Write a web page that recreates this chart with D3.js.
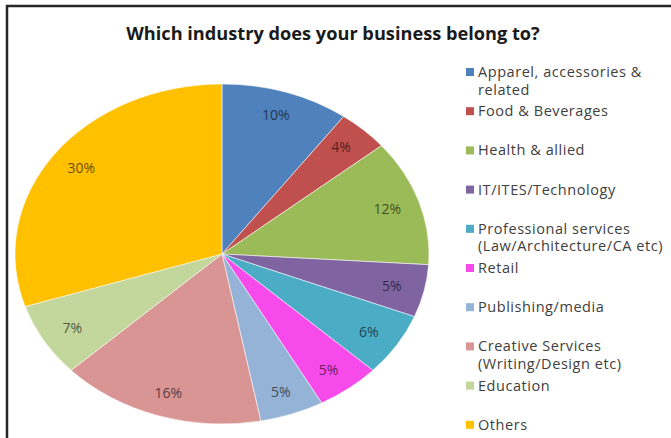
<!DOCTYPE html>
<html>
<head>
<meta charset="utf-8">
<script src="https://cdn.jsdelivr.net/npm/d3@7"></script>
<style>
  body { margin: 0; background: #fff; }
  svg { display: block; font-family: "Open Sans", Lato, sans-serif; }
</style>
</head>
<body>
<div class="wrapper"></div>
<script>

var categories = ["Apparel, accessories & related", "Food & Beverages", "Health & allied",
	"IT/ITES/Technology", "Professional services (Law/Architecture/CA etc)", "Retail",
	"Publishing/media", "Creative Services (Writing/Design etc)", "Education", "Others"];
var legendLines = [["Apparel, accessories &", "related"], ["Food & Beverages"], ["Health & allied"],
	["IT/ITES/Technology"], ["Professional services", "(Law/Architecture/CA etc)"], ["Retail"],
	["Publishing/media"], ["Creative Services", "(Writing/Design etc)"], ["Education"], ["Others"]];
var shares = [10, 4, 12, 5, 6, 5, 5, 16, 7, 30];
var colors = ["#4F81BD", "#C0504D", "#9BBB59", "#8064A2", "#4BACC6", "#F64BEA",
	"#95B3D7", "#D99594", "#C3D69B", "#FFC000"];

var W = 671, H = 438,
	CX = 222, CY = 254,
	RX = 207, RY = 170;

var svg = d3.select(".wrapper")
	.append("svg")
		.attr("width", W)
		.attr("height", H);

// frame (only top and left edges are inside the picture)
svg.append("path")
	.attr("d", "M7,438 V6 H671")
	.attr("fill", "none")
	.attr("stroke", "#262626")
	.attr("stroke-width", 2.5);

svg.append("text")
	.text("Which industry does your business belong to?")
	.attr("x", 333)
	.attr("y", 40)
	.attr("text-anchor", "middle")
	.attr("font-size", 18.2)
	.attr("font-weight", "bold")
	.attr("fill", "#1a1a1a");

var color = d3.scaleOrdinal().domain(categories).range(colors);

var pie = d3.pie().sort(null).value(function(d) { return d.v; });
var arcs = pie(categories.map(function(c, i) { return {name: c, v: shares[i]}; }));

var arc = d3.arc().innerRadius(0).outerRadius(RX);

// unit circle stretched into the ellipse of the original
var pieG = svg.append("g")
	.attr("transform", "translate(" + CX + "," + CY + ") scale(1," + (RY / RX) + ")");

pieG.selectAll("path")
	.data(arcs)
	.enter()
	.append("path")
		.attr("d", arc)
		.attr("fill", function(d) { return color(d.data.name); })
		.attr("stroke", "#fff")
		.attr("stroke-width", 0.6);

svg.selectAll(".label")
	.data(arcs)
	.enter()
	.append("text")
		.attr("class", "label")
		.attr("x", function(d) { return CX + Math.sin((d.startAngle + d.endAngle) / 2) * RX * 0.84; })
		.attr("y", function(d) { return CY - Math.cos((d.startAngle + d.endAngle) / 2) * RY * 0.86 + 5; })
		.attr("text-anchor", "middle")
		.attr("font-size", 14)
		.attr("fill", function(d) { return d3.color(color(d.data.name)).darker(2.4); })
		.text(function(d) { return d.data.v + "%"; });

// legend
var LEG_X = 466, LEG_Y0 = 72, LEG_STEP = 39.2, LINE_H = 17.5;

var items = svg.selectAll(".legend")
	.data(categories)
	.enter()
	.append("g")
		.attr("class", "legend")
		.attr("transform", function(d, i) { return "translate(" + LEG_X + "," + (LEG_Y0 + i * LEG_STEP) + ")"; });

items.append("rect")
	.attr("x", 0)
	.attr("y", -4)
	.attr("width", 8)
	.attr("height", 8)
	.attr("fill", function(d) { return color(d); });

items.append("text")
	.attr("font-size", 14.5)
	.attr("letter-spacing", 0.55)
	.attr("fill", "#404040")
	.selectAll("tspan")
	.data(function(d, i) { return legendLines[i]; })
	.enter()
	.append("tspan")
		.attr("x", 12)
		.attr("y", function(d, i) { return 5 + i * LINE_H; })
		.text(function(d) { return d; });

</script>
</body>
</html>
